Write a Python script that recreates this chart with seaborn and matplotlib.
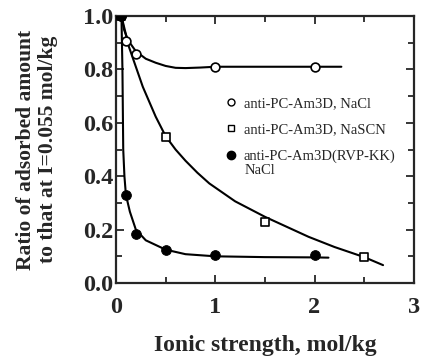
import numpy as np
import pandas as pd
import matplotlib
matplotlib.use("Agg")
import matplotlib.pyplot as plt
import seaborn as sns
from matplotlib.lines import Line2D
from matplotlib.ticker import MultipleLocator, FormatStrFormatter

# measured points
nacl_x = [0.055, 0.1, 0.2, 1.0, 2.0]
nacl_y = [1.0, 0.905, 0.858, 0.81, 0.81]
nascn_x = [0.055, 0.5, 1.5, 2.5]
nascn_y = [1.0, 0.548, 0.23, 0.099]
rvp_x = [0.055, 0.1, 0.2, 0.5, 1.0, 2.0]
rvp_y = [1.0, 0.33, 0.183, 0.122, 0.105, 0.105]

# fitted curves
nacl_fit_x = [0.055, 0.08, 0.12, 0.2, 0.3, 0.4, 0.5, 0.6, 0.7, 0.85, 1.0, 1.5, 2.0, 2.27]
nacl_fit_y = [1.0, 0.95, 0.91, 0.868, 0.84, 0.825, 0.813, 0.806, 0.805, 0.807, 0.81, 0.81, 0.81, 0.81]
nascn_fit_x = [0.055, 0.13, 0.27, 0.40, 0.50, 0.60, 0.70, 0.82, 0.94, 1.2, 1.5, 1.94, 2.2, 2.5, 2.69]
nascn_fit_y = [1.0, 0.885, 0.735, 0.623, 0.55, 0.50, 0.458, 0.413, 0.373, 0.306, 0.248, 0.173, 0.135, 0.097, 0.067]
rvp_fit_x = [0.055, 0.065, 0.073, 0.085, 0.1, 0.14, 0.2, 0.3, 0.5, 0.7, 1.0, 1.5, 2.0, 2.14]
rvp_fit_y = [1.0, 0.8, 0.5, 0.4, 0.33, 0.267, 0.2, 0.16, 0.125, 0.108, 0.1, 0.097, 0.096, 0.095]

labels = ["anti-PC-Am3D, NaCl", "anti-PC-Am3D, NaSCN", "anti-PC-Am3D(RVP-KK)"]

sns.set_style("ticks")
plt.rcParams['font.family'] = ['Liberation Serif', 'DejaVu Serif']
plt.rcParams['axes.linewidth'] = 1.6

fig = plt.figure(figsize=(4.21, 3.56), dpi=100)
ax = fig.add_axes([0.2755, 0.205, 0.7075, 0.75])

for fx, fy in [(nacl_fit_x, nacl_fit_y), (nascn_fit_x, nascn_fit_y), (rvp_fit_x, rvp_fit_y)]:
    sns.lineplot(x=fx, y=fy, ax=ax, color="black", lw=1.5, sort=False, estimator=None)

sns.scatterplot(x=nacl_x, y=nacl_y, ax=ax, marker="o", s=40, facecolor="white",
                edgecolor="black", linewidth=1.2, zorder=5)
sns.scatterplot(x=nascn_x, y=nascn_y, ax=ax, marker="s", s=40, facecolor="white",
                edgecolor="black", linewidth=1.2, zorder=5)
sns.scatterplot(x=rvp_x, y=rvp_y, ax=ax, marker="o", s=50, color="black",
                edgecolor="black", zorder=6)

ax.set_xlim(0, 3)
ax.set_ylim(0, 1.0)
ax.xaxis.set_major_locator(MultipleLocator(1))
ax.xaxis.set_minor_locator(MultipleLocator(0.5))
ax.yaxis.set_major_locator(MultipleLocator(0.2))
ax.yaxis.set_minor_locator(MultipleLocator(0.1))
ax.yaxis.set_major_formatter(FormatStrFormatter('%.1f'))
ax.tick_params(which="both", direction="in", top=True, right=True, width=1.3)
ax.tick_params(which="major", length=6, labelsize=17.5)
ax.tick_params(axis="x", which="major", pad=10)
ax.tick_params(axis="y", which="major", pad=2)
ax.tick_params(which="minor", length=4)
for lab in ax.get_xticklabels() + ax.get_yticklabels():
    lab.set_fontweight("bold")
for s in ax.spines.values():
    s.set_visible(True)

ax.set_xlabel("Ionic strength, mol/kg", fontsize=17, fontweight="bold", labelpad=12)
ax.set_ylabel("Ratio of adsorbed amount\nto that at I=0.055 mol/kg", fontsize=15.5,
              fontweight="bold", labelpad=18, linespacing=1.15)

handles = [
    Line2D([], [], ls="none", marker="o", ms=5, mfc="white", mec="black", mew=1.0),
    Line2D([], [], ls="none", marker="s", ms=5, mfc="white", mec="black", mew=1.0),
    Line2D([], [], ls="none", marker="o", ms=6, mfc="black", mec="black"),
]
ax.legend(handles, labels, loc="upper left", bbox_to_anchor=(0.36, 0.698), frameon=False,
          fontsize=10.5, handletextpad=0.4, labelspacing=0.9, handlelength=1.0,
          borderaxespad=0, borderpad=0)
ax.text(0.433, 0.423, "NaCl", transform=ax.transAxes, fontsize=10.5, va="center", ha="left")

fig.savefig("out.png", dpi=100)
